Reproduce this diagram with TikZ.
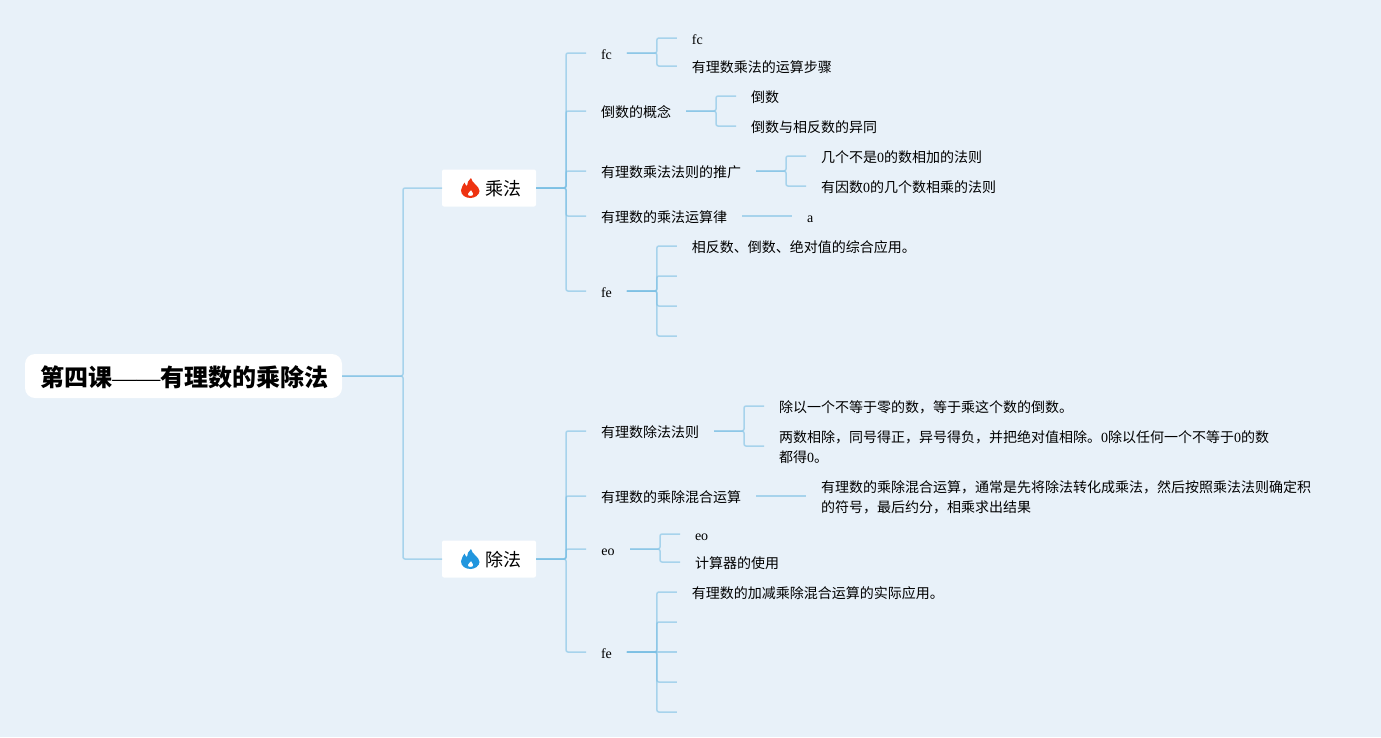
\documentclass[tikz,border=0pt]{standalone}
\usepackage{fontspec}
\usetikzlibrary{positioning}
\setmainfont{Noto Sans CJK SC}
\newfontfamily\latinfont{Liberation Serif}
\newcommand{\lat}[1]{{\latinfont #1}}
\definecolor{mapback}{HTML}{E8F1F9}
\definecolor{maplink}{HTML}{7CC0E4}
\definecolor{firered}{HTML}{EE3311}
\definecolor{fireblue}{HTML}{2196DE}
\tikzset{
  topic/.style={
    anchor=west,
    inner xsep=15pt,
    inner ysep=0pt,
    outer sep=0pt,
    text height=14pt,
    text depth=2pt,
    font=\fontsize{14}{20}\selectfont
  },
  longtopic/.style={
    anchor=west,
    align=left,
    inner xsep=15pt,
    inner ysep=0pt,
    outer sep=0pt,
    text height=35pt,
    text depth=3pt,
    font=\fontsize{14}{20}\selectfont
  },
  rootbox/.style={
    rounded corners=10pt,
    fill=white,
    minimum width=317pt,
    minimum height=44pt,
    inner sep=0pt,
    outer sep=0pt,
    text height=22pt,
    text depth=1pt,
    font=\fontsize{24}{28}\selectfont\bfseries
  },
  mainbox/.style={
    rounded corners=2pt,
    fill=white,
    minimum width=94pt,
    minimum height=37pt,
    inner sep=0pt,
    outer sep=0pt,
    text height=16pt,
    text depth=2pt,
    font=\fontsize{18}{22}\selectfont
  },
  link/.style={
    maplink,
    draw opacity=.6,
    line width=1.5pt,
    rounded corners=2pt
  },
  flame/.pic={
    \fill[pic actions,even odd rule] (0.5,-10) .. controls (1,-5) and (9,-2) .. (9,3) .. controls (9,7) and (4,10) .. (0,10) .. controls (-5,10) and (-9.5,7) .. (-9.5,2.5) .. controls (-9.5,-1) and (-7,-3) .. (-6,-5.5) .. controls (-5.5,-3.5) and (-4.5,-2.5) .. (-3.5,-2) .. controls (-3.5,-5) and (-2,-8) .. (0.5,-10) -- cycle
      (0.5,2) .. controls (1,3.5) and (2.8,4.5) .. (2.8,6) .. controls (2.8,7.2) and (1.5,8) .. (0,8) .. controls (-1.5,8) and (-2.8,7.2) .. (-2.8,6) .. controls (-2.8,4.5) and (0,3.5) .. (0.5,2) -- cycle;
  }
}
\begin{document}
\begin{tikzpicture}[x=1pt,y=-1pt,node distance=50pt]
\useasboundingbox[fill=mapback] (0,0) rectangle (1381,737);
\node[rootbox] (root) at (183.5,376) {\hspace*{1.5pt}第四课{\latinfont\mdseries ——}有理数的乘除法};
% first branch
\node[mainbox,right=100pt of root,yshift=188pt] (cheng) {\hspace*{28pt}乘法};
\pic[fill=firered] at ([xshift=-18.5pt]cheng.center) {flame};
\node[topic,right=of cheng,yshift=135pt] (fc) {\lat{fc}};
\node[topic,right=of cheng,yshift=77pt] (gainian) {倒数的概念};
\node[topic,right=of cheng,yshift=17pt] (tuiguang) {有理数乘法法则的推广};
\node[topic,right=of cheng,yshift=-28pt] (yunsuanlv) {有理数的乘法运算律};
\node[topic,right=of cheng,yshift=-103pt] (fe) {\lat{fe}};
\node[topic,right=of fc,yshift=15pt] (fca) {\lat{fc}};
\node[topic,right=of fc,yshift=-13pt] (fcb) {有理数乘法的运算步骤};
\node[topic,right=of gainian,yshift=15pt] (daoshu) {倒数};
\node[topic,right=of gainian,yshift=-15pt] (yitong) {倒数与相反数的异同};
\node[topic,right=of tuiguang,yshift=15pt] (xiangjia) {几个不是\lat{0}的数相加的法则};
\node[topic,right=of tuiguang,yshift=-15pt] (xiangcheng) {有因数\lat{0}的几个数相乘的法则};
\node[topic,right=of yunsuanlv] (lva) {\lat{a}};
\node[topic,right=of fe,yshift=45pt] (yingyong) {相反数、倒数、绝对值的综合应用。};
\coordinate[right=of fe,yshift=15pt] (feb);
\coordinate[right=of fe,yshift=-15pt] (fec);
\coordinate[right=of fe,yshift=-45pt] (fed);
% second branch
\node[mainbox,right=100pt of root,yshift=-183pt] (chu) {\hspace*{28pt}除法};
\pic[fill=fireblue] at ([xshift=-18.5pt]chu.center) {flame};
\node[topic,right=of chu,yshift=128pt] (fayze) {有理数除法法则};
\node[topic,right=of chu,yshift=63pt] (hunhe) {有理数的乘除混合运算};
\node[topic,minimum width=44pt,right=of chu,yshift=10pt] (eo) {\lat{eo}};
\node[topic,right=of chu,yshift=-93pt] (fetwo) {\lat{fe}};
\node[topic,right=of fayze,yshift=25pt] (chuyi) {除以一个不等于零的数，等于乘这个数的倒数。};
\node[longtopic,right=of fayze,yshift=-15pt] (xiangchu) {两数相除，同号得正，异号得负，并把绝对值相除。\lat{0}除以任何一个不等于\lat{0}的数\\都得\lat{0}。};
\node[longtopic,right=of hunhe] (xiancheng) {有理数的乘除混合运算，通常是先将除法转化成乘法，然后按照乘法法则确定积\\的符号，最后约分，相乘求出结果};
\node[topic,right=of eo,yshift=15pt] (eoa) {\lat{eo}};
\node[topic,right=of eo,yshift=-13pt] (jisuanqi) {计算器的使用};
\node[topic,right=of fetwo,yshift=60pt] (shiji) {有理数的加减乘除混合运算的实际应用。};
\coordinate[right=of fetwo,yshift=30pt] (fetwob);
\coordinate[right=of fetwo] (fetwoc);
\coordinate[right=of fetwo,yshift=-30pt] (fetwod);
\coordinate[right=of fetwo,yshift=-60pt] (fetwoe);
% connectors
\draw[link] (root.east) -- ++(61,0) |- (cheng.west);
\draw[link] (root.east) -- ++(61,0) |- (chu.west);
\draw[link] (cheng.east) -- ++(30,0) |- (fc.west);
\draw[link] (cheng.east) -- ++(30,0) |- (gainian.west);
\draw[link] (cheng.east) -- ++(30,0) |- (tuiguang.west);
\draw[link] (cheng.east) -- ++(30,0) |- (yunsuanlv.west);
\draw[link] (cheng.east) -- ++(30,0) |- (fe.west);
\draw[link] (fc.east) -- ++(30,0) |- (fca.west);
\draw[link] (fc.east) -- ++(30,0) |- (fcb.west);
\draw[link] (gainian.east) -- ++(30,0) |- (daoshu.west);
\draw[link] (gainian.east) -- ++(30,0) |- (yitong.west);
\draw[link] (tuiguang.east) -- ++(30,0) |- (xiangjia.west);
\draw[link] (tuiguang.east) -- ++(30,0) |- (xiangcheng.west);
\draw[link] (yunsuanlv.east) -- (lva.west);
\draw[link] (fe.east) -- ++(30,0) |- (yingyong.west);
\draw[link] (fe.east) -- ++(30,0) |- (feb);
\draw[link] (fe.east) -- ++(30,0) |- (fec);
\draw[link] (fe.east) -- ++(30,0) |- (fed);
\draw[link] (chu.east) -- ++(30,0) |- (fayze.west);
\draw[link] (chu.east) -- ++(30,0) |- (hunhe.west);
\draw[link] (chu.east) -- ++(30,0) |- (eo.west);
\draw[link] (chu.east) -- ++(30,0) |- (fetwo.west);
\draw[link] (fayze.east) -- ++(30,0) |- (chuyi.west);
\draw[link] (fayze.east) -- ++(30,0) |- (xiangchu.west);
\draw[link] (hunhe.east) -- (xiancheng.west);
\draw[link] (eo.east) -- ++(30,0) |- (eoa.west);
\draw[link] (eo.east) -- ++(30,0) |- (jisuanqi.west);
\draw[link] (fetwo.east) -- ++(30,0) |- (shiji.west);
\draw[link] (fetwo.east) -- ++(30,0) |- (fetwob);
\draw[link] (fetwo.east) -- (fetwoc);
\draw[link] (fetwo.east) -- ++(30,0) |- (fetwod);
\draw[link] (fetwo.east) -- ++(30,0) |- (fetwoe);
\end{tikzpicture}
\end{document}
